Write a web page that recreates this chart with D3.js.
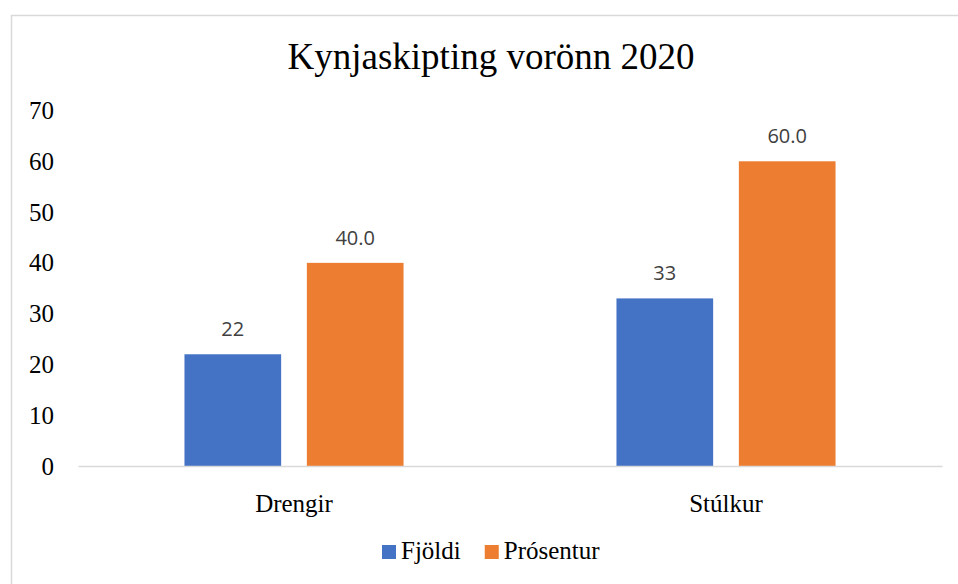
<!DOCTYPE html>
<html>
<head>
<meta charset="utf-8">
<script src="https://cdn.jsdelivr.net/npm/d3@7"></script>
<style>
    body { margin: 0; background: #fff; }
    svg { display: block; }
</style>
</head>
<body>
<svg id="chart" width="958" height="584"></svg>
<script>
// data
var categories = ["Drengir", "Stúlkur"];
var seriesNames = ["Fjöldi", "Prósentur"];
var fjoldi = [22, 33];
var prosentur = [40.0, 60.0];
var yTicks = [0, 10, 20, 30, 40, 50, 60, 70];
var labelFormats = [d3.format("d"), d3.format(".1f")];

var colors = d3.scaleOrdinal()
    .domain(seriesNames)
    .range(["#4472C4", "#ED7D31"]);

var svg = d3.select("#chart");
var serif = "'Liberation Serif', 'Times New Roman', serif";

// outer frame (right/bottom run off the picture)
svg.append("rect")
    .attr("x", 11.5)
    .attr("y", 15.5)
    .attr("width", 1000)
    .attr("height", 1000)
    .attr("fill", "#fff")
    .attr("stroke", "#d9d9d9")
    .attr("stroke-width", 1.5);

svg.append("text")
    .attr("x", 491)
    .attr("y", 69)
    .attr("text-anchor", "middle")
    .style("font-family", serif)
    .style("font-size", "37px")
    .attr("fill", "#000")
    .text("Kynjaskipting vorönn 2020");

var x0 = d3.scaleBand()
    .domain(categories)
    .range([78, 942]);

var x1 = d3.scaleBand()
    .domain(seriesNames)
    .range([0, x0.bandwidth()])
    .paddingInner(0.21)
    .paddingOuter(0.87);

var y = d3.scaleLinear()
    .domain([0, 70])
    .range([466, 110.5]);

// y tick labels, no axis line
var yAxis = svg.append("g")
    .attr("transform", "translate(78,0)")
    .call(d3.axisLeft(y).tickValues(yTicks).tickSize(0).tickPadding(24));
yAxis.select(".domain").remove();
yAxis.selectAll("text")
    .style("font-family", serif)
    .style("font-size", "25px")
    .attr("fill", "#000");

var rows = categories.map(function (c, i) {
    return {cat: c, values: [fjoldi[i], prosentur[i]]};
});

var groups = svg.append("g")
    .selectAll("g")
    .data(rows)
    .enter()
    .append("g")
    .attr("transform", function (d) {
        return "translate(" + x0(d.cat) + ",0)";
    });

var cells = groups.selectAll("g")
    .data(function (d) {
        return d.values.map(function (v, j) {
            return {key: seriesNames[j], value: v, idx: j};
        });
    })
    .enter()
    .append("g");

cells.append("rect")
    .attr("x", function (d) { return x1(d.key); })
    .attr("y", function (d) { return y(d.value); })
    .attr("width", x1.bandwidth())
    .attr("height", function (d) { return y(0) - y(d.value); })
    .attr("fill", function (d) { return colors(d.key); });

cells.append("text")
    .attr("x", function (d) { return x1(d.key) + x1.bandwidth() / 2; })
    .attr("y", function (d) { return y(d.value) - 18; })
    .attr("text-anchor", "middle")
    .style("font-family", "'Open Sans', sans-serif")
    .style("font-size", "20px")
    .attr("fill", "#404040")
    .text(function (d) { return labelFormats[d.idx](d.value); });

// x axis
var xAxis = svg.append("g")
    .attr("transform", "translate(0," + y(0) + ")")
    .call(d3.axisBottom(x0).tickSize(0).tickPadding(28));
xAxis.select(".domain")
    .attr("stroke", "#d9d9d9")
    .attr("stroke-width", 1.5);
xAxis.selectAll("text")
    .style("font-family", serif)
    .style("font-size", "25px")
    .attr("fill", "#000");

// legend
var legend = svg.append("g")
    .attr("transform", "translate(382,545)");
var lx = 0;
seriesNames.forEach(function (name) {
    var item = legend.append("g").attr("transform", "translate(" + lx + ",0)");
    item.append("rect")
        .attr("width", 14)
        .attr("height", 14)
        .attr("fill", colors(name));
    var t = item.append("text")
        .attr("x", 19)
        .attr("y", 14)
        .style("font-family", serif)
        .style("font-size", "25px")
        .attr("fill", "#000")
        .text(name);
    lx += 19 + t.node().getComputedTextLength() + 24;
});
</script>
</body>
</html>
